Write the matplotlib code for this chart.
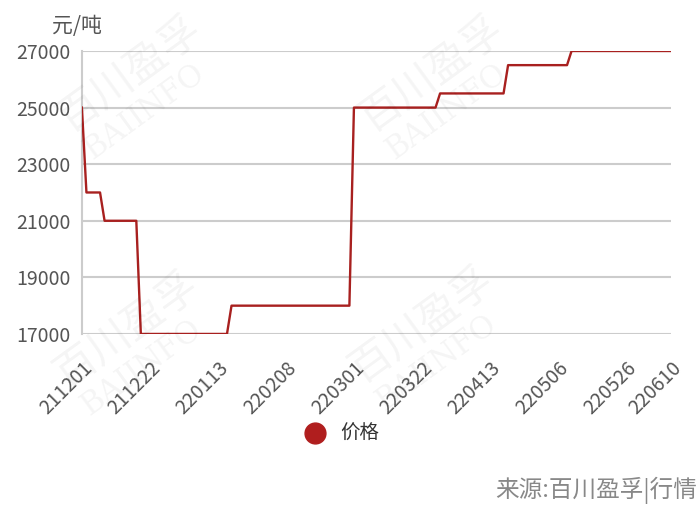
import matplotlib.pyplot as plt

plt.rcParams['font.family'] = ['Noto Sans CJK SC', 'DejaVu Sans']

# step series: (price, number of trading days)
levels = [25000, 22000, 21000, 17000, 18000, 25000, 25500, 26500, 27000]
counts = [1, 4, 8, 20, 27, 19, 15, 14, 23]

prices = []
for v, n in zip(levels, counts):
    prices += [v] * n

tick_pos = [0, 15, 30, 45, 60, 75, 90, 105, 120, 130]
tick_labels = ['211201', '211222', '220113', '220208', '220301',
               '220322', '220413', '220506', '220526', '220610']
y_ticks = [17000, 19000, 21000, 23000, 25000, 27000]

line_color = '#a8201f'
grid_color = '#cccccc'
text_color = '#555555'

fig = plt.figure(figsize=(7, 5.13), dpi=100)
ax = fig.add_axes([0.117, 0.349, 0.842, 0.5516])

ax.plot(range(len(prices)), prices, color=line_color, linewidth=1.7, zorder=3)

ax.set_xlim(0, len(prices) - 1)
ax.set_ylim(17000, 27000)
ax.set_yticks(y_ticks)
ax.set_yticklabels([str(v) for v in y_ticks], fontsize=14, color=text_color)
ax.set_xticks(tick_pos)
ax.set_xticklabels(tick_labels, rotation=45, ha='right', va='top',
                   rotation_mode='anchor', fontsize=14, color=text_color)
ax.tick_params(length=0, pad=8)
ax.tick_params(axis='x', pad=17)
for y in y_ticks:
    ax.axhline(y, color=grid_color, linewidth=1.5, zorder=1)
for s in ['top', 'right', 'bottom']:
    ax.spines[s].set_visible(False)
ax.spines['left'].set_color(grid_color)
ax.spines['left'].set_linewidth(1.5)

fig.text(0.074, 0.949, '元/吨', fontsize=15, color=text_color, va='center')

# legend
fig.lines.append(plt.Line2D([315 / 700], [1 - 433 / 513], transform=fig.transFigure,
                            marker='o', markersize=15, color='#b01e1e', linestyle='none'))
fig.text(340 / 700, 1 - 433 / 513, '价格', fontsize=14, color='#333333', va='center')

fig.text(0.996, 1 - 490 / 513, '来源:百川盈孚|行情', fontsize=17, color='#888888',
         ha='right', va='center')

# watermarks
for cx, cy in [(130, 82), (432, 82), (127, 338), (422, 333)]:
    fig.text(cx / 700, 1 - (cy - 8) / 513, '百川盈孚', fontsize=30, color='#000000',
             alpha=0.045, rotation=36, ha='center', va='center', zorder=10)
    fig.text((cx + 14) / 700, 1 - (cy + 30) / 513, 'BAIINFO', fontsize=22,
             family='DejaVu Serif', color='#000000', alpha=0.045, rotation=36,
             ha='center', va='center', zorder=10)

fig.savefig('out.png', dpi=100)
